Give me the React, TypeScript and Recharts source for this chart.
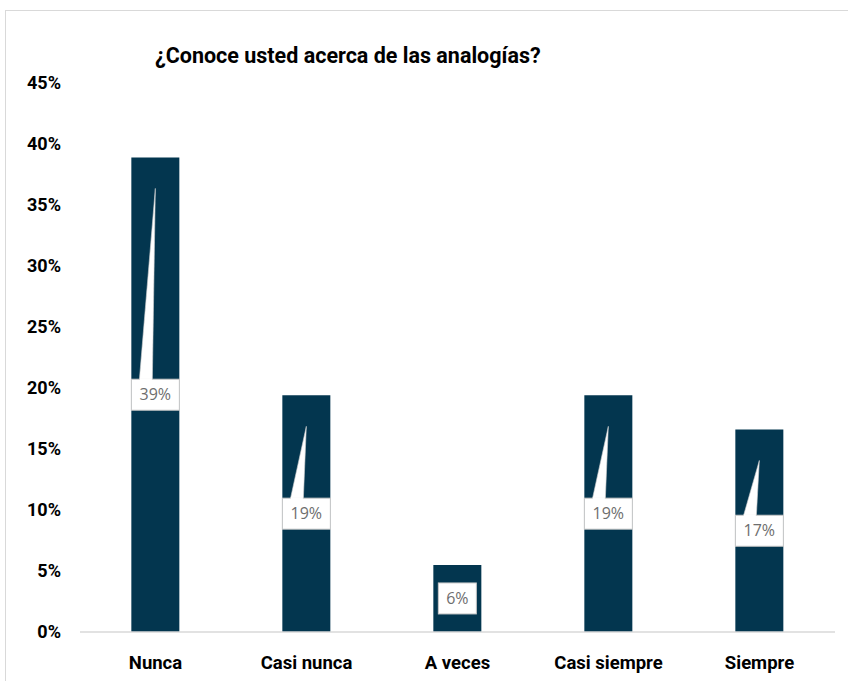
import { BarChart, Bar, XAxis, YAxis, LabelList } from 'recharts';

const categories = ['Nunca', 'Casi nunca', 'A veces', 'Casi siempre', 'Siempre'];
const values = [0.389, 0.194, 0.055, 0.194, 0.166];
const labels = ['39%', '19%', '6%', '19%', '17%'];
const yTicks = [0, 0.05, 0.1, 0.15, 0.2, 0.25, 0.3, 0.35, 0.4, 0.45];

const data = categories.map((name, i) => ({ name, value: values[i], label: labels[i] }));

const FONT = '"Liberation Sans Narrow", "Roboto", Arial, sans-serif';
const BAR_COLOR = '#03364f';

// white callout box in the middle of the bar, with a wedge pointing to the bar top
function CalloutLabel(props: any) {
  const { x, y, width, height, value } = props;
  const cx = x + width / 2;
  const cy = y + height / 2;
  const boxW = Math.min(width, String(value).length * 10 + 18);
  const boxH = 31;
  const left = cx - boxW / 2;
  const top = cy - boxH / 2;
  const showWedge = height > 120;
  return (
    <g>
      {showWedge && (
        <polygon
          points={`${left + 8},${top + 1} ${left + 21},${top + 1} ${cx},${y + 31}`}
          fill="#ffffff"
          stroke="#d0d0d0"
          strokeWidth={0.6}
        />
      )}
      <rect x={left} y={top} width={boxW} height={boxH} fill="#ffffff" stroke="#c8c8c8" strokeWidth={1} />
      {showWedge && (
        <line x1={left + 8.5} y1={top} x2={left + 20.5} y2={top} stroke="#ffffff" strokeWidth={2} />
      )}
      <text
        x={cx}
        y={cy + 1}
        textAnchor="middle"
        dominantBaseline="middle"
        fill="#6e6e6e"
        fontSize={16}
        fontFamily='"Open Sans", Arial, sans-serif'
      >
        {value}
      </text>
    </g>
  );
}

export default function App() {
  return (
    <div style={{ position: 'absolute', left: 0, top: 0, width: 848, height: 681, background: '#fff' }}>
      <div
        style={{
          position: 'absolute',
          left: 5,
          top: 10,
          width: 860,
          height: 700,
          border: '1px solid #d9d9d9',
        }}
      />
      <div
        style={{
          position: 'absolute',
          left: 155,
          top: 43,
          fontFamily: FONT,
          fontWeight: 'bold',
          fontSize: 21.5,
          color: '#000',
          whiteSpace: 'nowrap',
        }}
      >
        ¿Conoce usted acerca de las analogías?
      </div>
      <BarChart
        width={848}
        height={681}
        data={data}
        margin={{ top: 83, right: 13, left: 10, bottom: 0 }}
        barCategoryGap="34%"
        style={{ position: 'absolute', left: 0, top: 0 }}
      >
        <XAxis
          dataKey="name"
          axisLine={{ stroke: '#d9d9d9', strokeWidth: 1.5 }}
          tickLine={false}
          tickMargin={18}
          tick={{ fill: '#000', fontSize: 18.5, fontWeight: 'bold', fontFamily: FONT }}
          height={49}
        />
        <YAxis
          domain={[0, 0.45]}
          ticks={yTicks}
          width={70}
          axisLine={false}
          tickLine={false}
          tickMargin={13}
          tickFormatter={(v: number) => `${Math.round(v * 100)}%`}
          tick={{ fill: '#000', fontSize: 18, fontWeight: 'bold', fontFamily: FONT }}
        />
        <Bar dataKey="value" fill={BAR_COLOR} isAnimationActive={false}>
          <LabelList dataKey="label" content={CalloutLabel} />
        </Bar>
      </BarChart>
    </div>
  );
}
